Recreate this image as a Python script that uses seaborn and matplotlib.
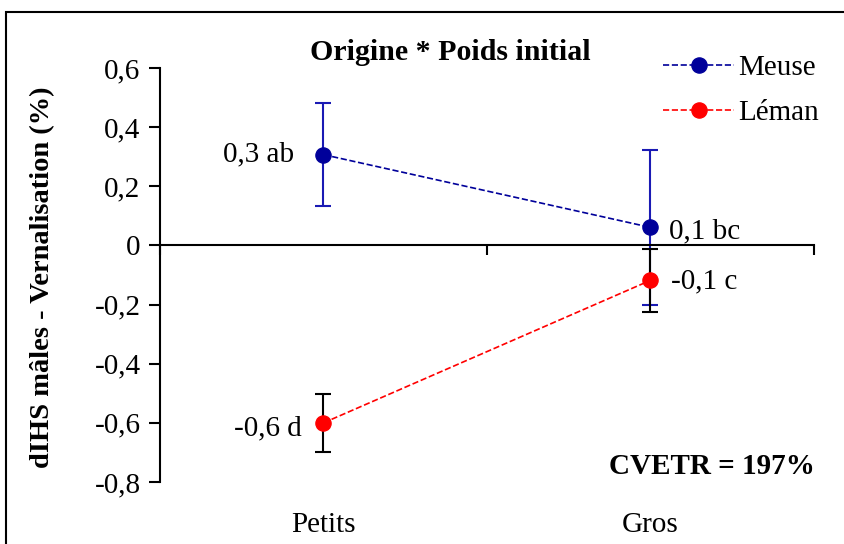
import matplotlib
matplotlib.use("Agg")
import matplotlib.pyplot as plt
import seaborn as sns
import pandas as pd
from matplotlib.patches import Rectangle

sns.set_theme(style="white")
plt.rcParams['font.family'] = ['Liberation Serif', 'DejaVu Serif']
plt.rcParams['text.color'] = 'black'
plt.rcParams['axes.labelcolor'] = 'black'
plt.rcParams['xtick.color'] = 'black'
plt.rcParams['ytick.color'] = 'black'

categories = ["Petits", "Gros"]
meuse = [0.307, 0.061]
meuse_err = [0.174, 0.262]
leman = [-0.600, -0.118]
leman_err = [0.097, 0.106]
meuse_labels = ["0,3 ab", "0,1 bc"]
leman_labels = ["-0,6 d", "-0,1 c"]
yticks = [-0.8, -0.6, -0.4, -0.2, 0.0, 0.2, 0.4, 0.6]
ytick_labels = ["-0,8", "-0,6", "-0,4", "-0,2", "0", "0,2", "0,4", "0,6"]

c_meuse = "#00009A"
c_meuse_err = "#1A1AB4"
c_leman = "#FF0000"
FS = 21

df = pd.DataFrame({
    "Poids": categories * 2,
    "val": meuse + leman,
    "Origine": ["Meuse"] * 2 + ["Léman"] * 2,
})

fig = plt.figure(figsize=(8.45, 5.44), dpi=100)
ax = fig.add_axes([160 / 845, 62 / 544, 654 / 845, 414 / 544])

sns.pointplot(data=df, x="Poids", y="val", hue="Origine", order=categories,
              hue_order=["Meuse", "Léman"], palette=[c_meuse, c_leman],
              markers="o", linestyles="--", errorbar=None, ax=ax,
              linewidth=1.2, markersize=11)

xpos = list(range(len(categories)))
ax.errorbar(xpos, meuse, yerr=meuse_err, fmt="none", ecolor=c_meuse_err,
            elinewidth=1.5, capsize=6, capthick=1.5, zorder=1)
ax.errorbar(xpos, leman, yerr=leman_err, fmt="none", ecolor="black",
            elinewidth=1.5, capsize=6, capthick=1.5, zorder=1)

ax.set_xlim(-0.5, 1.5)
ax.set_ylim(-0.8, 0.6)
ax.set_yticks(yticks)
ax.set_yticklabels(ytick_labels, fontsize=FS)
ax.tick_params(axis="y", direction="out", length=8, width=1.5, pad=6,
               left=True, colors="black")
ax.set_ylabel("dIHS mâles - Vernalisation (%)", fontsize=FS - 0.5,
              fontweight="bold")
ax.yaxis.set_label_coords(-0.18, 0.495)
ax.yaxis.label.set_va("center")

for s in ["top", "right"]:
    ax.spines[s].set_visible(False)
ax.spines["left"].set_linewidth(1.5)
ax.spines["left"].set_color("black")
ax.spines["bottom"].set_position(("data", 0))
ax.spines["bottom"].set_linewidth(1.5)
ax.spines["bottom"].set_color("black")
ax.set_xticks([-0.5, 0.5, 1.5])
ax.set_xticklabels([])
ax.tick_params(axis="x", direction="out", length=7, width=1.5, bottom=True,
               colors="black")
ax.set_xlabel("")

for i, c in enumerate(categories):
    ax.annotate(c, xy=(i, 0), xycoords=("data", "axes fraction"),
                xytext=(0, -31), textcoords="offset points",
                ha="center", va="center", fontsize=FS)

# value labels
ax.annotate(meuse_labels[0], xy=(0, meuse[0]), xytext=(-21, 0),
            textcoords="offset points", ha="right", va="center", fontsize=FS)
ax.annotate(meuse_labels[1], xy=(1, meuse[1]), xytext=(13, -3),
            textcoords="offset points", ha="left", va="center", fontsize=FS)
ax.annotate(leman_labels[0], xy=(0, leman[0]), xytext=(-16, -4),
            textcoords="offset points", ha="right", va="center", fontsize=FS)
ax.annotate(leman_labels[1], xy=(1, leman[1]), xytext=(15, -1),
            textcoords="offset points", ha="left", va="center", fontsize=FS)

fig.text(450 / 845, 1 - 53 / 544, "Origine * Poids initial", ha="center",
         va="center", fontsize=FS + 0.5, fontweight="bold")
fig.text(815 / 845, 1 - 467 / 544, "CVETR = 197%", ha="right", va="center",
         fontsize=FS, fontweight="bold")

leg = ax.legend(loc="upper left", bbox_to_anchor=(663 / 845, 1 - 55 / 544),
                bbox_transform=fig.transFigure, frameon=False, fontsize=FS,
                handlelength=2.45, handletextpad=0.12, labelspacing=0.62,
                borderaxespad=0, borderpad=0)

fig.patches.append(Rectangle((6 / 845, -0.05), 1.2, 1 - 12 / 544 + 0.05,
                             transform=fig.transFigure, fill=False,
                             edgecolor="black", linewidth=1.5))

fig.savefig("out.png", dpi=100)
